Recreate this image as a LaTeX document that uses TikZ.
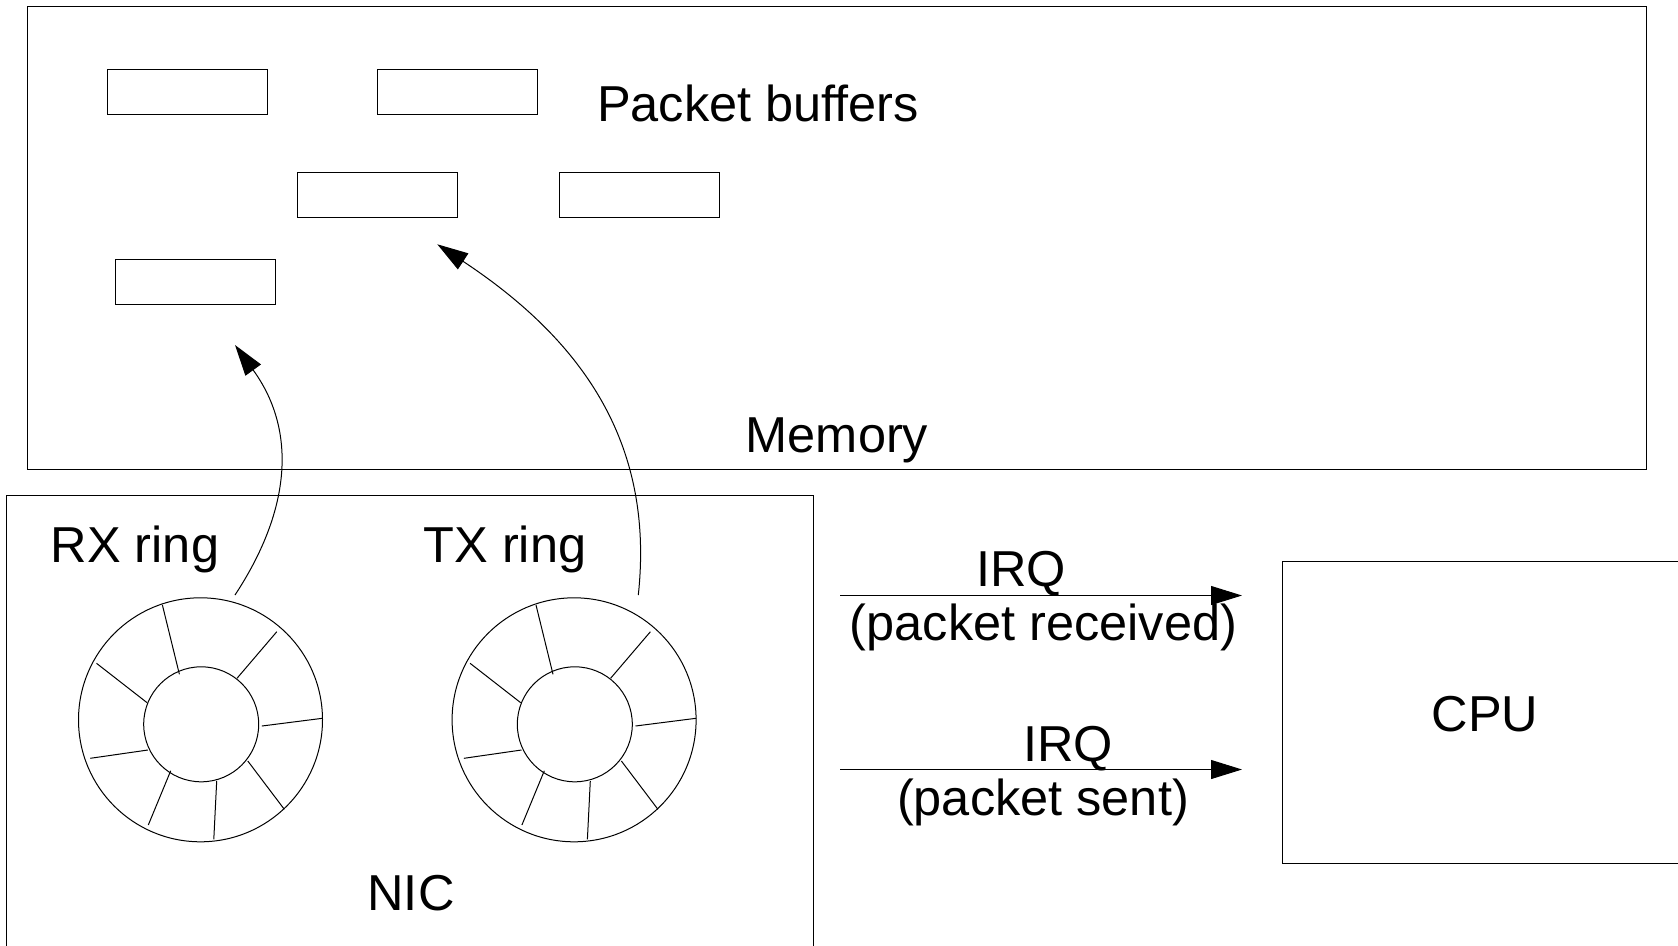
\documentclass[tikz,border=0pt]{standalone}
\usepackage{fontspec}
\setmainfont{Liberation Sans}
\usetikzlibrary{arrows.meta}

\tikzset{
  frame/.style={draw, line width=1pt, inner sep=0pt, outer sep=0pt},
  buf/.style={frame, minimum width=160pt, minimum height=45pt},
  lbl/.style={inner sep=0pt, outer sep=0pt, anchor=base,
              font=\fontsize{50.5pt}{60pt}\selectfont},
  flow/.style={line width=1pt, -{Triangle[length=31pt,width=19pt]}},
  spoke/.style={line width=1pt},
  % a descriptor ring: outer wheel, hub and eight slot dividers
  ring/.pic={
    \node[frame, circle, minimum size=244pt] (-outer) at (0,0) {};
    \node[frame, circle, minimum size=115pt] (-hub) at (0.7,4.5) {};
    \foreach \ax/\ay/\bx/\by in {
        -38.1/-114.8/-21.1/-45.5,
         76.3/-88.1/36.5/-41.5,
       -104.0/-56.5/-53.4/-17.1,
        121.9/-1.5/61.4/6.2,
       -110.2/38.5/-52.6/30.2,
         83.8/89.5/47.3/41.2,
        -52.2/105.2/-29.8/51.0,
         13.3/119.5/16.2/61.2}
      {\draw[spoke] (\ax,\ay) -- (\bx,\by);}
  }
}

\begin{document}
\begin{tikzpicture}[x=1pt, y=-1pt]
  \useasboundingbox (0,0) rectangle (1678,945);
  \fill[white] (0,0) rectangle (1678,945);
  \clip (0,0) rectangle (1678,945);

  % main memory with its packet buffers
  \node[frame, minimum width=1619.5pt, minimum height=463pt] (mem) at (836.75,237.5) {};
  \node[buf] (bufA) at (187,91.5) {};
  \node[buf] (bufB) at (457,91.5) {};
  \node[buf] (bufC) at (377.5,194.5) {};
  \node[buf] (bufD) at (639,194.5) {};
  \node[buf] (bufE) at (195.5,282.3) {};
  \node[lbl] (pbuf) at (758,121) {Packet buffers};
  \node[lbl] (memlbl) at (837,452) {Memory};

  % network card with its two rings
  \node[frame, minimum width=806.6pt, minimum height=504.3pt] (nic) at (410,747.85) {};
  \pic (rx) at (200.5,719.8) {ring};
  \pic (tx) at (574.1,719.8) {ring};
  \node[lbl] (rxlbl) at (135,562) {RX ring};
  \node[lbl] (txlbl) at (505,562) {TX ring};
  \node[lbl] (niclbl) at (411,910) {NIC};

  % processor
  \node[frame, minimum width=437.6pt, minimum height=301.2pt] (cpu) at (1501.2,712.4) {};
  \node[lbl] (cpulbl) at (1485,731) {CPU};

  % DMA between the rings and the buffers
  \coordinate (rxsrc) at (235,595);
  \coordinate (rxdst) at (235,345);
  \coordinate (txsrc) at (638.3,595);
  \coordinate (txdst) at (437.3,244.3);
  \draw[flow] (rxsrc) .. controls (292.5,507.6) and (296,429) .. (rxdst);
  \draw[flow] (txsrc) .. controls (655,440) and (579.1,338.1) .. (txdst);

  % interrupts to the processor
  \coordinate (irqAsrc) at (840,595.5);
  \coordinate (irqAdst) at (1242,595.5);
  \coordinate (irqBsrc) at (840,769.5);
  \coordinate (irqBdst) at (1242,769.5);
  \draw[flow] (irqAsrc) -- (irqAdst);
  \draw[flow] (irqBsrc) -- (irqBdst);
  \node[lbl] (irqA) at (1021,586) {IRQ};
  \node[lbl] (irqAnote) at (1043.5,640) {(packet received)};
  \node[lbl] (irqB) at (1068,761) {IRQ};
  \node[lbl] (irqBnote) at (1043,815) {(packet sent)};
\end{tikzpicture}
\end{document}
